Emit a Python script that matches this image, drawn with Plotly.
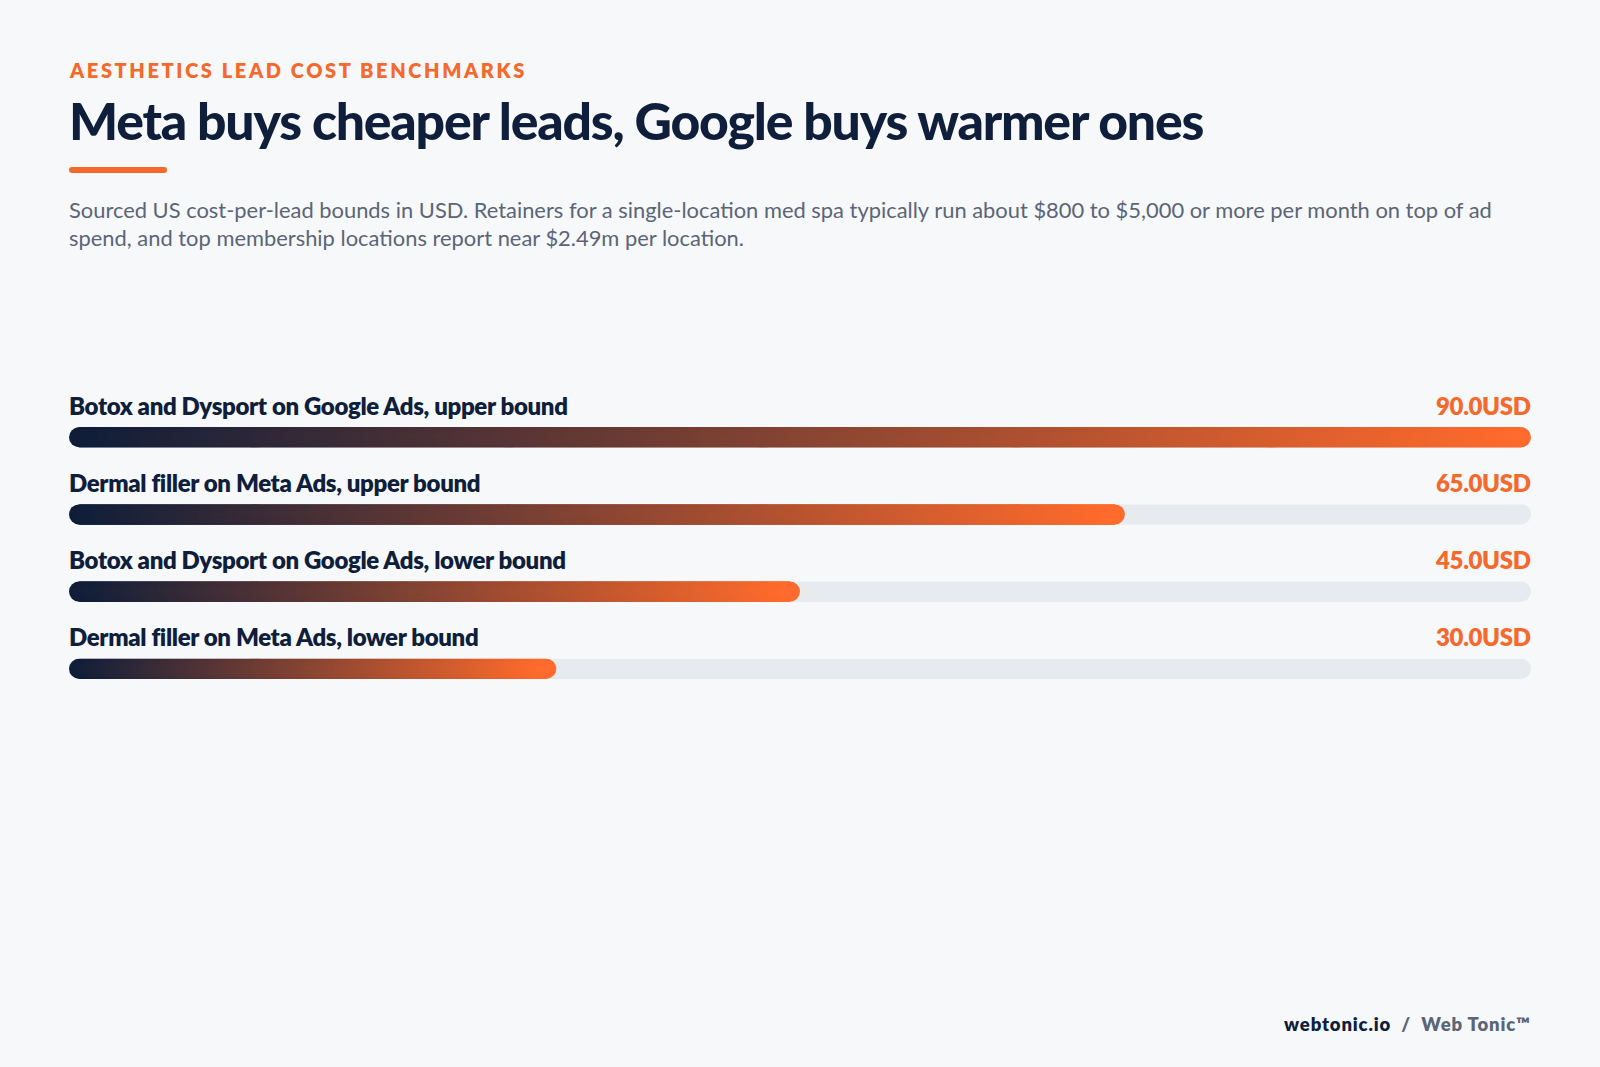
import numpy as np
import plotly.graph_objects as go

# ---------------- data ----------------
kicker = "AESTHETICS LEAD COST BENCHMARKS"
title = "Meta buys cheaper leads, Google buys warmer ones"
subtitle_lines = [
    "Sourced US cost-per-lead bounds in USD. Retainers for a single-location med spa typically run about $800 to $5,000 or more per month on top of ad",
    "spend, and top membership locations report near $2.49m per location.",
]
categories = [
    "Botox and Dysport on Google Ads, upper bound",
    "Dermal filler on Meta Ads, upper bound",
    "Botox and Dysport on Google Ads, lower bound",
    "Dermal filler on Meta Ads, lower bound",
]
values = [90.0, 65.0, 45.0, 30.0]
unit = "USD"
x_max = 90.0
footer_site = "webtonic.io"
footer_brand = "Web Tonic™"

# ---------------- style / layout ----------------
W, H = 1600, 1067
ML, MR, MT, MB = 69, 69, 360, 321
PW = W - ML - MR
PH = H - MT - MB
BAR_PX = 20
BG = "#f6f8fa"
NAVY = "#0f1e3a"
ORANGE = "#ff6b2c"
TEXT_ORANGE = "#f56a2c"
TRACK = "#e7eaee"
GRAY = "#5b6577"
FONT = "Lato"
GRAD = [[0, NAVY], [1, ORANGE]]

Y_RANGE = [len(values), -1]
px_per_unit = PW / x_max
px_per_unit_y = PH / abs(Y_RANGE[0] - Y_RANGE[1])
r = BAR_PX / 2 / px_per_unit
hh = (BAR_PX / 2 - 0.2) / px_per_unit_y


def pxx(px):
    return (px - ML) / PW


def pxy(py):
    return (H - MB - py) / PH


fig = go.Figure()

# track bodies (heatmaps sit under all scatter layers)
for i, v in enumerate(values):
    fig.add_trace(go.Heatmap(
        x=[r, x_max - r], y=[i - hh, i + hh], z=[[0]],
        colorscale=[[0, TRACK], [1, TRACK]], zmin=0, zmax=1,
        showscale=False, hoverinfo="skip"))

# gradient under-fill of each bar (one column per pixel)
for i, v in enumerate(values):
    span_px = (v - 2 * r) * px_per_unit
    n = max(int(round(span_px)), 2)
    edges = np.linspace(r, v - r, n + 1)
    centers = (edges[:-1] + edges[1:]) / 2
    t = (centers - r) / (v - 2 * r)
    fig.add_trace(go.Heatmap(
        x=edges, y=[i - hh, i + hh], z=[t],
        colorscale=GRAD, zmin=0, zmax=1,
        showscale=False, hoverinfo="skip"))

# rounded caps of tracks
for i, v in enumerate(values):
    fig.add_trace(go.Scatter(
        x=[r, x_max - r], y=[i, i], mode="markers",
        marker=dict(size=BAR_PX, color=TRACK, line=dict(width=0)),
        hoverinfo="skip", cliponaxis=False, showlegend=False))

# gradient bars: dense overlapping circles -> rounded gradient pill
for i, v in enumerate(values):
    span_px = (v - 2 * r) * px_per_unit
    n = max(int(span_px) + 1, 2)
    xs = np.linspace(r, v - r, n)
    t = (xs - r) / (v - 2 * r)
    fig.add_trace(go.Scatter(
        x=xs, y=np.full(n, i), mode="markers",
        marker=dict(size=BAR_PX, color=t, colorscale=GRAD, cmin=0, cmax=1,
                    line=dict(width=0), showscale=False),
        hoverinfo="skip", cliponaxis=False, showlegend=False))

annotations = []
LABEL_OFF = 0.415
for i, (c, v) in enumerate(zip(categories, values)):
    annotations.append(dict(
        x=0, y=i - LABEL_OFF, xref="x", yref="y", xanchor="left", yanchor="middle",
        text=f'<span style="letter-spacing:-0.35px">{c}</span>', showarrow=False,
        borderpad=0, borderwidth=0,
        font=dict(family=FONT, size=24, color=NAVY, weight=800)))
    annotations.append(dict(
        x=x_max, y=i - LABEL_OFF, xref="x", yref="y", xanchor="right", yanchor="middle",
        text=f'<span style="letter-spacing:-0.35px">{v:.1f}{unit}</span>', showarrow=False,
        borderpad=0, borderwidth=0,
        font=dict(family=FONT, size=24, color=TEXT_ORANGE, weight=800)))

# kicker
annotations.append(dict(
    x=pxx(69), y=pxy(70), xref="paper", yref="paper", xanchor="left", yanchor="middle",
    text=f'<span style="letter-spacing:2.6px">{kicker}</span>', showarrow=False,
    borderpad=0, borderwidth=0,
    font=dict(family=FONT, size=20, color=TEXT_ORANGE, weight=800)))
# title
annotations.append(dict(
    x=pxx(69), y=pxy(120), xref="paper", yref="paper", xanchor="left", yanchor="middle",
    text=f'<span style="letter-spacing:-1.2px">{title}</span>', showarrow=False,
    borderpad=0, borderwidth=0,
    font=dict(family=FONT, size=51.7, color=NAVY, weight=900)))
# subtitle
annotations.append(dict(
    x=pxx(69), y=pxy(223), xref="paper", yref="paper", xanchor="left", yanchor="middle",
    align="left",
    text="<br>".join(subtitle_lines), showarrow=False,
    borderpad=0, borderwidth=0,
    font=dict(family=FONT, size=21.9, color=GRAY, weight=400)))
# footer
annotations.append(dict(
    x=pxx(1531), y=pxy(1024), xref="paper", yref="paper", xanchor="right", yanchor="middle",
    text=(f'<span style="letter-spacing:0.85px"><span style="color:{NAVY}">{footer_site}</span>'
          f'<span style="color:{GRAY}">  /  {footer_brand}</span></span>'),
    showarrow=False, borderpad=0, borderwidth=0,
    font=dict(family=FONT, size=18.5, color=NAVY, weight=800)))

# orange underline (rounded)
x0, x1, yc, uh = pxx(69), pxx(167), pxy(170), 3 / PH
rx = 3 / PW
path = (f"M {x0+rx},{yc+uh} L {x1-rx},{yc+uh} Q {x1},{yc+uh} {x1},{yc} Q {x1},{yc-uh} {x1-rx},{yc-uh} "
        f"L {x0+rx},{yc-uh} Q {x0},{yc-uh} {x0},{yc} Q {x0},{yc+uh} {x0+rx},{yc+uh} Z")
shapes = [dict(type="path", path=path, xref="paper", yref="paper",
               fillcolor=TEXT_ORANGE, line=dict(width=0))]

fig.update_layout(
    width=W, height=H,
    margin=dict(l=ML, r=MR, t=MT, b=MB, pad=0),
    paper_bgcolor=BG, plot_bgcolor=BG,
    showlegend=False,
    xaxis=dict(range=[0, x_max], visible=False, fixedrange=True),
    yaxis=dict(range=Y_RANGE, visible=False, fixedrange=True),
    annotations=annotations, shapes=shapes,
    font=dict(family=FONT),
)

fig.write_html(
    "out.html",
    config={"displayModeBar": False},
    post_script=f"document.body.style.margin='0';document.body.style.background='{BG}';",
)
